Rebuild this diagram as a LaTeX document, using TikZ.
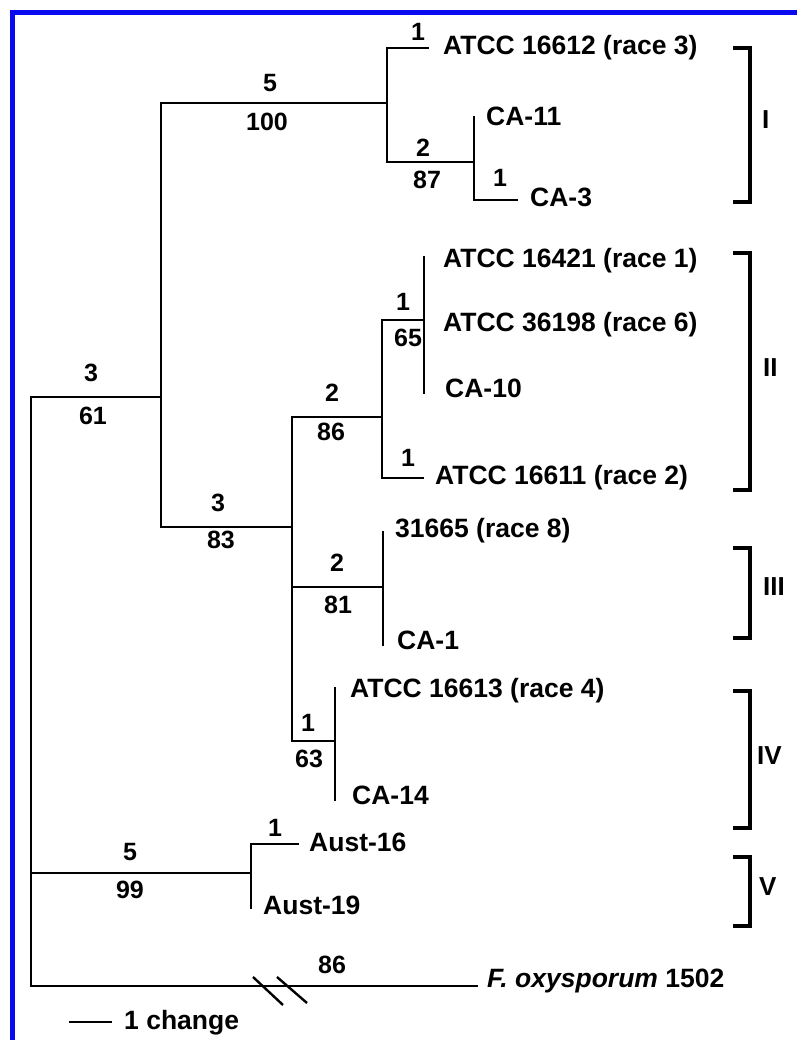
\documentclass[tikz,border=0pt]{standalone}
\usepackage{fontspec}
\setmainfont{Liberation Sans}
\definecolor{frameblue}{RGB}{10,10,240}
\tikzset{
  lbl/.style={anchor=base west, inner sep=0pt, font=\fontsize{26.5}{30}\selectfont\bfseries},
  num/.style={inner sep=0pt, font=\fontsize{25}{30}\selectfont\bfseries},
  roman/.style={anchor=west, inner sep=0pt, font=\fontsize{26}{30}\selectfont\bfseries},
  branch/.style={line width=2.8pt, line cap=rect},
  bracket/.style={line width=3.2pt},
}
\begin{document}
\begin{tikzpicture}[x=1pt,y=-1pt]
\useasboundingbox (0,0) rectangle (797,1040);
% frame
\draw[frameblue, line width=5pt] (12.5,1040) -- (12.5,12.5) -- (797,12.5);

% internal nodes / coordinates
\coordinate (root) at (31,397);
\coordinate (rootbot) at (31,986);
\coordinate (nA) at (161,397);
\coordinate (nAtop) at (161,103);
\coordinate (nAbot) at (161,527);
\coordinate (nI) at (387,103);
\coordinate (nItop) at (387,48);
\coordinate (nIbot) at (387,162);
\coordinate (n87) at (474,162);
\coordinate (n87top) at (474,117);
\coordinate (n87bot) at (474,200);
\coordinate (n83) at (292,527);
\coordinate (n83top) at (292,417);
\coordinate (n83mid) at (292,587);
\coordinate (n83bot) at (292,741);
\coordinate (n86) at (382,417);
\coordinate (n86top) at (382,320);
\coordinate (n86bot) at (382,478);
\coordinate (n65) at (424,320);
\coordinate (n65top) at (424,257);
\coordinate (n65bot) at (424,393);
\coordinate (n81) at (383,587);
\coordinate (n81top) at (383,532);
\coordinate (n81bot) at (383,645);
\coordinate (n63) at (335,741);
\coordinate (n63top) at (335,688);
\coordinate (n63bot) at (335,800);
\coordinate (rootV) at (31,873);
\coordinate (n99) at (251,873);
\coordinate (n99top) at (251,844);
\coordinate (n99bot) at (251,908);
% leaf ends
\coordinate (e16612) at (428,48);
\coordinate (eCA3) at (517,200);
\coordinate (e16611) at (423,478);
\coordinate (eAust16) at (298,844);
\coordinate (eOut) at (477,986);

% tree
\draw[branch] (root) -- (rootbot);
\draw[branch] (root) -- (nA);
\draw[branch] (nAtop) -- (nAbot);
\draw[branch] (nAtop) -- (nI);
\draw[branch] (nItop) -- (nIbot);
\draw[branch] (nItop) -- (e16612);
\draw[branch] (nIbot) -- (n87);
\draw[branch] (n87top) -- (n87bot);
\draw[branch] (n87bot) -- (eCA3);
\draw[branch] (nAbot) -- (n83);
\draw[branch] (n83top) -- (n83bot);
\draw[branch] (n83top) -- (n86);
\draw[branch] (n86top) -- (n86bot);
\draw[branch] (n86top) -- (n65);
\draw[branch] (n65top) -- (n65bot);
\draw[branch] (n86bot) -- (e16611);
\draw[branch] (n83mid) -- (n81);
\draw[branch] (n81top) -- (n81bot);
\draw[branch] (n83bot) -- (n63);
\draw[branch] (n63top) -- (n63bot);
\draw[branch] (rootV) -- (n99);
\draw[branch] (n99top) -- (n99bot);
\draw[branch] (n99top) -- (eAust16);
\draw[branch] (rootbot) -- (eOut);
% break marks
\coordinate (s1a) at (253,977); \coordinate (s1b) at (283,1005);
\coordinate (s2a) at (277,977); \coordinate (s2b) at (307,1003);
\draw[line width=2.4pt] (s1a) -- (s1b);
\draw[line width=2.4pt] (s2a) -- (s2b);

% leaf labels
\node[lbl] (l16612) at (443,54.5) {ATCC 16612 (race 3)};
\node[lbl] (lCA11) at (486,125.5) {CA-11};
\node[lbl] (lCA3) at (530,206.5) {CA-3};
\node[lbl] (l16421) at (443,267.5) {ATCC 16421 (race 1)};
\node[lbl] (l36198) at (443,331.5) {ATCC 36198 (race 6)};
\node[lbl] (lCA10) at (445,397.5) {CA-10};
\node[lbl] (l16611) at (435,484.5) {ATCC 16611 (race 2)};
\node[lbl] (l31665) at (395,537.5) {31665 (race 8)};
\node[lbl] (lCA1) at (397,649.5) {CA-1};
\node[lbl] (l16613) at (350,697.5) {ATCC 16613 (race 4)};
\node[lbl] (lCA14) at (352,804.5) {CA-14};
\node[lbl] (lAust16) at (309,851.5) {Aust-16};
\node[lbl] (lAust19) at (263,914.5) {Aust-19};
\node[lbl] (lOut) at (487,987.5) {\textit{F. oxysporum} 1502};

% branch numbers
\node[num] (b5a) at (270,83) {5};
\node[num] (b100) at (267,122) {100};
\node[num] (b1a) at (418,32) {1};
\node[num] (b2a) at (423,148) {2};
\node[num] (b87) at (427,180) {87};
\node[num] (b1b) at (500,178) {1};
\node[num] (b1c) at (403,302) {1};
\node[num] (b65) at (408,338) {65};
\node[num] (b2b) at (332,393) {2};
\node[num] (b86) at (331,432) {86};
\node[num] (b1d) at (408,458) {1};
\node[num] (b3a) at (91,373) {3};
\node[num] (b61) at (93,416) {61};
\node[num] (b3b) at (218,503) {3};
\node[num] (b83) at (221,540) {83};
\node[num] (b2c) at (337,563) {2};
\node[num] (b81) at (338,605) {81};
\node[num] (b1e) at (308,723) {1};
\node[num] (b63) at (309,759) {63};
\node[num] (b5b) at (130,852) {5};
\node[num] (b99) at (130,890) {99};
\node[num] (b1f) at (275,828) {1};
\node[num] (b86o) at (332,965) {86};

% brackets
\draw[bracket] (733,48) -- (750,48) -- (750,202) -- (733,202);
\draw[bracket] (733,253) -- (750,253) -- (750,490) -- (733,490);
\draw[bracket] (733,548) -- (750,548) -- (750,638) -- (733,638);
\draw[bracket] (733,691) -- (750,691) -- (750,828) -- (733,828);
\draw[bracket] (733,857) -- (750,857) -- (750,926) -- (733,926);
\node[roman] (rI) at (762,120) {I};
\node[roman] (rII) at (763,368) {II};
\node[roman] (rIII) at (763,587) {III};
\node[roman] (rIV) at (757,756) {IV};
\node[roman] (rV) at (759,887) {V};

% scale bar
\coordinate (sb1) at (69,1022);
\coordinate (sb2) at (112,1022);
\draw[line width=2.8pt] (sb1) -- (sb2);
\node[lbl] (lscale) at (124,1029.5) {1 change};
\end{tikzpicture}
\end{document}
